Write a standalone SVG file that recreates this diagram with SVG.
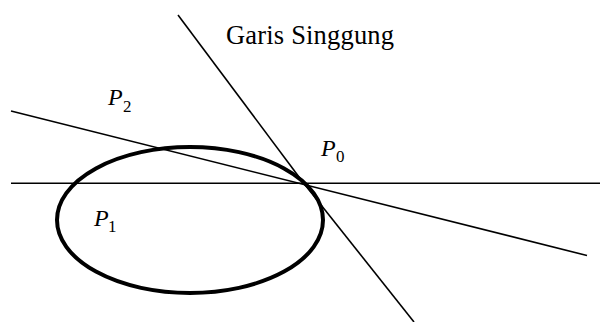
<svg xmlns="http://www.w3.org/2000/svg" width="600" height="322" viewBox="0 0 600 322">
<rect width="600" height="322" fill="#fff"/>
<g id="connectors" stroke="#000" stroke-width="1.6" fill="none">
<line x1="11" y1="183.3" x2="600" y2="183.3"/>
<line x1="11" y1="111" x2="587" y2="255.5"/>
<line x1="178" y1="15" x2="302" y2="181"/>
<line x1="302" y1="181" x2="414" y2="322"/>
</g>
<g id="ellipse">
<ellipse cx="190" cy="220" rx="133" ry="73" fill="none" stroke="#000" stroke-width="4"/>
</g>
<g id="label-garis">
<text x="226" y="44" textLength="168" style="font-family:'Liberation Serif',serif;font-size:26.5px;fill:#000">Garis Singgung</text>
</g>
<g id="label-p2">
<text x="108" y="105" style="font-family:'Liberation Serif',serif;font-size:24px;font-style:italic;fill:#000">P</text>
<text x="123" y="112" style="font-family:'Liberation Serif',serif;font-size:17px;fill:#000">2</text>
</g>
<g id="label-p0">
<text x="321" y="156" style="font-family:'Liberation Serif',serif;font-size:24px;font-style:italic;fill:#000">P</text>
<text x="336" y="162" style="font-family:'Liberation Serif',serif;font-size:17px;fill:#000">0</text>
</g>
<g id="label-p1">
<text x="94" y="226" style="font-family:'Liberation Serif',serif;font-size:24px;font-style:italic;fill:#000">P</text>
<text x="108" y="232" style="font-family:'Liberation Serif',serif;font-size:17px;fill:#000">1</text>
</g>
</svg>
